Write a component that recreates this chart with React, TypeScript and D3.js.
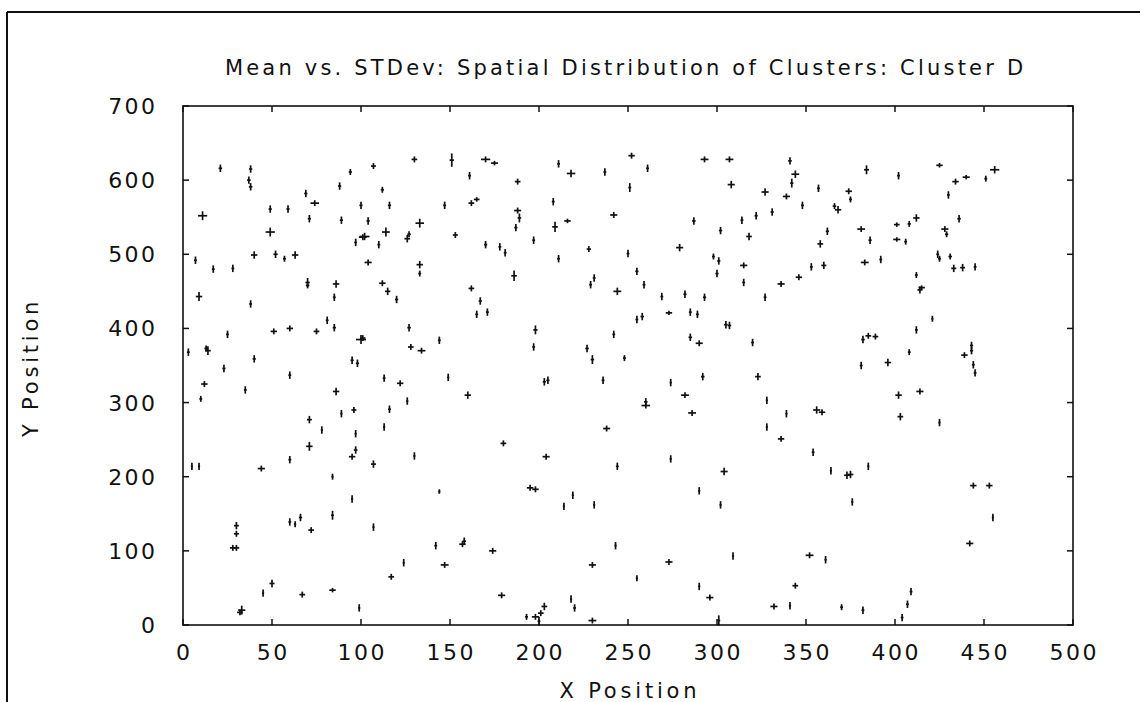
import React from "react";
import * as d3 from "d3";

const chartTitle = "Mean vs. STDev: Spatial Distribution of Clusters: Cluster D";
const xLabel = "X Position";
const yLabel = "Y Position";
const xTicks = [0, 50, 100, 150, 200, 250, 300, 350, 400, 450, 500];
const yTicks = [0, 100, 200, 300, 400, 500, 600, 700];

// [mean x, mean y, stdev x, stdev y]
const clusterD: [number, number, number, number][] = [
  [21,616,1.0,5],[38,615,0.9,5],[37,600,1.0,5],[38,591,1.0,5],[11,552,2.6,6],[49,561,0.9,5],[59,561,0.9,5],
  [69,582,0.9,5],[74,569,2.4,4],[71,548,0.9,5],[49,530,2.6,6],[94,611,0.9,4],[107,619,1.4,4],[88,592,0.9,5],
  [112,587,0.9,4],[100,566,0.9,5],[116,566,0.9,5],[89,546,0.9,5],[104,545,0.9,5],[102,524,2.8,5],[101,523,2.2,4],
  [114,530,2.2,6],[97,516,0.8,5],[110,513,0.8,5],[126,521,1.6,5],[127,527,1.0,4],[7,492,0.8,5],[17,480,0.8,5],
  [28,481,0.8,5],[40,499,1.8,5],[52,500,1.2,5],[57,494,0.8,4],[63,499,1.8,5],[104,489,2.0,4],[9,443,1.8,6],
  [70,462,1.2,6],[70,458,1.0,4],[86,460,1.8,5],[112,461,1.8,4],[115,450,1.5,5],[120,439,0.9,5],[38,433,0.8,5],
  [85,442,0.8,5],[81,411,0.8,5],[85,401,0.9,5],[25,392,0.8,5],[51,396,1.8,4],[60,400,1.8,4],[75,396,1.6,4],
  [100,385,2.8,6],[101,387,1.5,4],[127,401,1.0,5],[3,368,0.8,5],[14,370,1.6,6],[13,373,1.0,4],[40,359,0.9,5],
  [95,357,0.9,5],[98,353,0.9,5],[23,346,0.9,5],
  [130,628,1.6,4],[151,627,1.2,9],[170,628,2.6,4],[175,623,2.0,3],[211,622,0.8,5],[218,609,2.4,5],[252,633,1.8,4],
  [237,611,0.8,5],[251,590,0.8,6],[161,606,0.8,5],[188,598,1.6,4],[147,566,0.8,5],[162,569,1.6,4],[165,574,1.6,3],
  [208,571,0.8,5],[188,559,2.0,4],[189,549,1.0,6],[133,542,2.4,6],[209,537,1.6,7],[216,545,1.8,3],[242,553,2.0,4],
  [187,536,0.9,5],[153,526,1.4,4],[170,513,0.9,5],[178,510,0.8,5],[181,502,0.8,5],[197,519,0.8,5],[228,507,1.2,4],
  [250,501,0.8,5],[211,494,0.8,5],[255,477,0.9,5],[133,486,1.8,5],[133,474,0.8,4],[186,471,1.6,7],[231,468,0.8,5],
  [229,459,0.8,5],[244,450,2.2,5],[162,454,1.6,4],[167,437,0.9,5],[165,419,0.8,5],[171,422,0.8,5],[255,412,0.8,5],
  [198,398,1.2,6],[242,392,0.8,5],[128,375,1.6,4],[134,370,2.2,4],[144,384,0.8,5],[197,375,0.8,5],[227,373,1.0,5],
  [230,358,1.0,6],[248,360,0.8,4],
  [261,616,0.8,5],[293,628,2.2,4],[307,628,2.2,4],[308,594,2.0,5],[341,626,1.0,5],[344,608,2.2,5],[342,596,0.9,6],
  [327,584,2.0,5],[339,578,2.0,4],[357,589,0.8,5],[348,566,0.8,5],[374,585,1.8,4],[375,574,0.8,4],[366,565,1.0,4],
  [368,560,1.8,5],[384,614,1.4,6],[287,545,1.0,5],[314,546,0.8,5],[322,552,0.9,5],[331,557,0.9,5],[302,532,0.9,5],
  [318,524,1.6,5],[279,509,2.0,5],[362,531,0.9,5],[358,514,1.6,5],[381,534,2.2,4],[386,519,0.9,5],[298,497,0.8,4],
  [301,491,0.9,5],[300,474,0.9,5],[315,485,2.0,4],[315,462,0.8,5],[353,483,0.8,5],[360,485,1.4,5],[383,489,2.2,4],
  [259,459,0.8,5],[269,443,0.8,5],[282,446,0.9,5],[293,442,0.9,5],[327,442,0.8,5],[336,460,2.0,4],[346,469,1.8,4],
  [258,416,1.0,5],[273,421,1.8,3],[285,422,0.8,5],[289,419,0.8,5],[305,405,1.0,5],[307,404,1.0,5],[285,388,1.0,5],
  [290,380,2.0,4],[320,381,0.8,5],[382,385,1.0,5],[385,390,1.6,4],[389,389,1.6,4],[381,350,0.8,5],
  [402,606,0.8,5],[425,620,1.8,3],[434,598,1.8,4],[440,604,2.0,3],[451,602,0.8,4],[456,614,2.6,5],[430,580,0.8,5],
  [412,549,1.8,5],[408,541,0.9,4],[401,540,1.6,3],[436,548,1.0,5],[428,534,2.0,4],[429,527,0.9,4],[401,520,2.0,3],
  [406,517,0.8,4],[392,493,0.8,5],[424,500,0.8,5],[425,494,0.8,4],[431,497,1.0,4],[433,481,1.4,5],[438,482,1.4,5],
  [445,483,0.8,5],[412,472,0.8,4],[414,452,1.4,5],[415,455,1.8,3],[421,413,0.6,4],[412,398,0.8,5],[408,368,0.8,4],
  [396,354,1.8,5],[439,364,1.8,4],[443,370,0.9,5],[443,377,0.9,5],[444,351,0.8,5],[445,340,0.8,5],
  [12,325,1.8,4],[10,305,0.8,4],[35,317,0.8,5],[60,337,0.8,5],[86,315,1.8,5],[113,333,0.8,5],[122,326,1.8,4],
  [126,302,0.6,5],[96,290,1.4,4],[89,285,0.6,5],[116,291,0.8,5],[71,277,1.4,5],[78,263,0.6,5],[97,258,0.6,5],
  [113,267,0.6,5],[71,241,1.8,6],[97,236,1.0,5],[95,227,1.8,4],[60,223,0.8,5],[5,214,0.6,5],[9,214,0.6,5],
  [44,211,2.0,4],[107,217,1.4,5],[84,200,0.6,4],[95,170,0.6,5],[60,139,0.8,5],[63,136,0.6,4],[66,145,0.9,5],
  [84,148,0.8,6],[72,128,1.6,4],[107,132,0.6,5],[30,134,1.4,5],[30,123,1.4,4],[28,104,1.6,4],[30,104,1.6,4],
  [124,84,0.6,5],[117,65,1.6,4],[45,43,0.6,5],[50,56,1.4,5],[67,41,1.6,4],[84,47,1.8,3],[99,23,0.6,5],
  [33,20,2.0,6],[32,17,1.6,4],
  [149,334,0.6,5],[160,310,1.8,5],[203,328,0.9,5],[205,330,0.9,5],[236,330,0.8,5],[238,265,2.0,4],[180,245,1.6,4],
  [204,227,2.0,4],[244,214,0.8,5],[130,228,0.6,5],[144,180,0.6,3],[195,185,1.8,4],[198,183,1.8,4],[219,175,0.6,5],
  [214,160,0.6,5],[231,162,0.6,5],[142,107,0.8,5],[158,113,1.0,5],[157,109,1.8,4],[174,100,2.0,4],[147,81,2.2,4],
  [179,40,2.0,4],[243,107,0.6,5],[230,81,2.0,4],[255,63,0.6,4],[218,35,0.6,5],[220,23,0.8,5],[193,11,0.8,4],
  [198,11,2.0,4],[201,16,1.6,4],[203,25,1.6,5],[200,5,0.8,6],[230,6,2.2,4],
  [274,327,0.6,5],[292,335,1.0,5],[323,335,1.6,5],[260,301,1.0,5],[260,296,2.4,4],[282,310,2.2,4],[286,286,2.2,4],
  [328,303,0.6,5],[328,267,0.6,5],[339,285,0.6,5],[356,290,2.0,5],[359,287,1.8,4],[336,251,1.8,4],[354,233,0.8,5],
  [364,208,0.6,5],[373,202,1.6,5],[375,203,1.6,5],[385,214,0.6,5],[376,166,0.6,5],[274,224,0.6,5],[304,207,2.0,5],
  [290,181,0.6,5],[302,162,0.6,5],[273,85,2.0,4],[309,93,0.6,5],[352,94,2.2,4],[361,88,0.6,5],[290,52,0.6,5],
  [296,37,2.0,4],[344,53,1.6,4],[332,25,2.0,4],[341,26,0.6,5],[370,24,0.8,4],[382,20,0.8,5],[301,6,0.8,7],
  [402,310,1.8,5],[414,315,2.0,4],[403,281,1.6,5],[425,273,0.6,5],[444,188,1.8,4],[453,188,1.8,4],[455,145,0.6,5],
  [442,110,2.0,4],[409,45,0.8,5],[407,28,0.8,5],[404,10,0.8,5],
];

export default function App() {
  const W = 1144, H = 702;
  const left = 183, right = 1073, top = 106, bottom = 625;
  const x = d3.scaleLinear().domain([0, 500]).range([left, right]);
  const y = d3.scaleLinear().domain([0, 700]).range([bottom, top]);
  const font = "'DejaVu Sans', Verdana, sans-serif";
  const ink = "#111";
  const tickLen = 6;
  const tickLs = 2.4;
  const labelLs = 3.8;
  const titleLs = 3.2;
  return (
    <svg width={W} height={H} style={{ position: "absolute", left: 0, top: 0, background: "#fff" }}>
      <rect x={0} y={0} width={W} height={H} fill="#fff" />
      <line x1={7} x2={1140} y1={12} y2={12} stroke={ink} strokeWidth={2} />
      <line x1={7} x2={7} y1={12} y2={H} stroke={ink} strokeWidth={2} />
      <text x={624 + titleLs / 2} y={75} textAnchor="middle" fontFamily={font} fontSize={21} letterSpacing={titleLs} fill={ink}>
        {chartTitle}
      </text>
      {xTicks.map((t) => (
        <g key={"x" + t}>
          <line x1={x(t)} x2={x(t)} y1={bottom} y2={bottom - tickLen} stroke={ink} strokeWidth={1.5} />
          <line x1={x(t)} x2={x(t)} y1={top} y2={top + tickLen} stroke={ink} strokeWidth={1.5} />
          <text x={x(t) + tickLs / 2} y={660} textAnchor="middle" fontFamily={font} fontSize={22} letterSpacing={tickLs} fill={ink}>
            {t}
          </text>
        </g>
      ))}
      {yTicks.map((t) => (
        <g key={"y" + t}>
          <line x1={left} x2={left + tickLen} y1={y(t)} y2={y(t)} stroke={ink} strokeWidth={1.5} />
          <line x1={right} x2={right - tickLen} y1={y(t)} y2={y(t)} stroke={ink} strokeWidth={1.5} />
          <text x={155 + tickLs} y={y(t) + 8} textAnchor="end" fontFamily={font} fontSize={22} letterSpacing={tickLs} fill={ink}>
            {t}
          </text>
        </g>
      ))}
      <rect x={left} y={top} width={right - left} height={bottom - top} fill="none" stroke={ink} strokeWidth={1.6} />
      <text x={(left + right) / 2 + labelLs / 2} y={698} textAnchor="middle" fontFamily={font} fontSize={21} letterSpacing={labelLs} fill={ink}>
        {xLabel}
      </text>
      <text
        transform={`translate(38, ${(top + bottom) / 2 + labelLs / 2}) rotate(-90)`}
        textAnchor="middle"
        fontFamily={font}
        fontSize={21}
        letterSpacing={labelLs}
        fill={ink}
      >
        {yLabel}
      </text>
      <g stroke={ink} strokeWidth={1.7}>
        {clusterD.map(([mx, my, sx, sy], i) => (
          <g key={i}>
            <line x1={x(mx - sx)} x2={x(mx + sx)} y1={y(my)} y2={y(my)} />
            <line x1={x(mx)} x2={x(mx)} y1={y(my - sy)} y2={y(my + sy)} />
          </g>
        ))}
      </g>
    </svg>
  );
}
